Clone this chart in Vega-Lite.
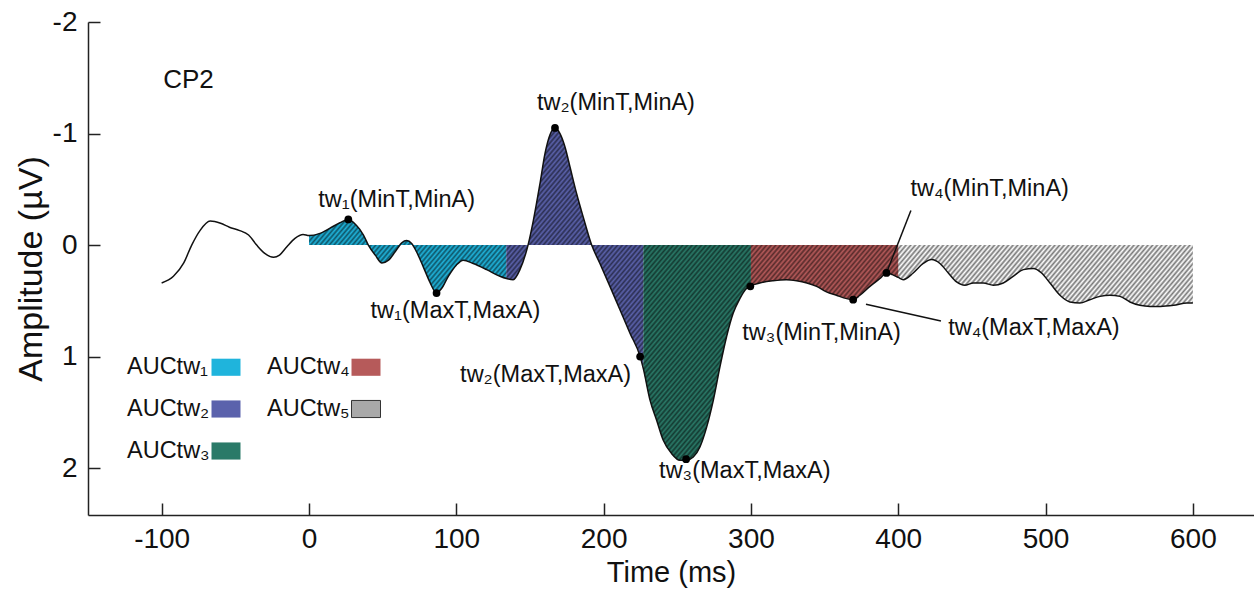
{
  "$schema": "https://vega.github.io/schema/vega-lite/v6.json",
  "width": 1166,
  "height": 493,
  "autosize": "none",
  "padding": {"left": 88, "top": 22, "right": 0, "bottom": 75},
  "background": "white",
  "config": {"view": {"stroke": null}, "font": "Liberation Sans"},
  "datasets": {
    "erp": [
      {"t": -100, "a": 0.34, "w": "pre"}, {"t": -92, "a": 0.28, "w": "pre"}, {"t": -85, "a": 0.16, "w": "pre"},
      {"t": -79.6, "a": 0, "w": "pre"}, {"t": -74, "a": -0.13, "w": "pre"}, {"t": -67, "a": -0.215, "w": "pre"},
      {"t": -60, "a": -0.195, "w": "pre"}, {"t": -54, "a": -0.16, "w": "pre"}, {"t": -47, "a": -0.13, "w": "pre"},
      {"t": -41, "a": -0.09, "w": "pre"}, {"t": -35.5, "a": 0, "w": "pre"}, {"t": -30, "a": 0.075, "w": "pre"},
      {"t": -24, "a": 0.11, "w": "pre"}, {"t": -20, "a": 0.09, "w": "pre"}, {"t": -15, "a": 0.015, "w": "pre"},
      {"t": -9.5, "a": -0.06, "w": "pre"}, {"t": -4, "a": -0.095, "w": "pre"},
      {"t": 0, "a": -0.085, "w": "tw1"}, {"t": 7.5, "a": -0.105, "w": "tw1"}, {"t": 14, "a": -0.15, "w": "tw1"},
      {"t": 21, "a": -0.2, "w": "tw1"}, {"t": 26.7, "a": -0.23, "w": "tw1"}, {"t": 32, "a": -0.18, "w": "tw1"},
      {"t": 37, "a": -0.09, "w": "tw1"}, {"t": 40.3, "a": 0, "w": "tw1"}, {"t": 45, "a": 0.09, "w": "tw1"},
      {"t": 49.5, "a": 0.16, "w": "tw1"}, {"t": 54, "a": 0.135, "w": "tw1"}, {"t": 58.5, "a": 0.06, "w": "tw1"},
      {"t": 63, "a": -0.02, "w": "tw1"}, {"t": 66.3, "a": -0.04, "w": "tw1"}, {"t": 69.7, "a": -0.015, "w": "tw1"},
      {"t": 73, "a": 0.06, "w": "tw1"}, {"t": 77.6, "a": 0.195, "w": "tw1"}, {"t": 82, "a": 0.33, "w": "tw1"},
      {"t": 86.6, "a": 0.43, "w": "tw1"}, {"t": 90, "a": 0.39, "w": "tw1"}, {"t": 94.6, "a": 0.28, "w": "tw1"},
      {"t": 100, "a": 0.18, "w": "tw1"}, {"t": 104.7, "a": 0.135, "w": "tw1"}, {"t": 111.5, "a": 0.165, "w": "tw1"},
      {"t": 120.6, "a": 0.22, "w": "tw1"}, {"t": 129.6, "a": 0.28, "w": "tw1"}, {"t": 134, "a": 0.3, "w": "tw1"},
      {"t": 134, "a": 0.3, "w": "tw2"}, {"t": 138.6, "a": 0.31, "w": "tw2"}, {"t": 143.2, "a": 0.22, "w": "tw2"},
      {"t": 148.7, "a": 0, "w": "tw2"}, {"t": 152.3, "a": -0.22, "w": "tw2"}, {"t": 156.8, "a": -0.55, "w": "tw2"},
      {"t": 160.2, "a": -0.82, "w": "tw2"}, {"t": 163.6, "a": -0.99, "w": "tw2"}, {"t": 167, "a": -1.05, "w": "tw2"},
      {"t": 170.4, "a": -1.0, "w": "tw2"}, {"t": 173.8, "a": -0.88, "w": "tw2"}, {"t": 177.2, "a": -0.7, "w": "tw2"},
      {"t": 181.7, "a": -0.46, "w": "tw2"}, {"t": 186.2, "a": -0.25, "w": "tw2"}, {"t": 191.9, "a": 0, "w": "tw2"},
      {"t": 197.5, "a": 0.165, "w": "tw2"}, {"t": 204.3, "a": 0.37, "w": "tw2"}, {"t": 211.1, "a": 0.58, "w": "tw2"},
      {"t": 217.9, "a": 0.79, "w": "tw2"}, {"t": 224.8, "a": 1.0, "w": "tw2"}, {"t": 227, "a": 1.11, "w": "tw2"},
      {"t": 227, "a": 1.11, "w": "tw3"}, {"t": 231.5, "a": 1.39, "w": "tw3"}, {"t": 236, "a": 1.57, "w": "tw3"},
      {"t": 240.5, "a": 1.75, "w": "tw3"}, {"t": 246.2, "a": 1.87, "w": "tw3"}, {"t": 251.8, "a": 1.93, "w": "tw3"},
      {"t": 256, "a": 1.93, "w": "tw3"}, {"t": 260.9, "a": 1.9, "w": "tw3"}, {"t": 265.4, "a": 1.81, "w": "tw3"},
      {"t": 270, "a": 1.63, "w": "tw3"}, {"t": 274.5, "a": 1.39, "w": "tw3"}, {"t": 279, "a": 1.09, "w": "tw3"},
      {"t": 283.5, "a": 0.82, "w": "tw3"}, {"t": 288, "a": 0.61, "w": "tw3"}, {"t": 292.5, "a": 0.48, "w": "tw3"},
      {"t": 297, "a": 0.39, "w": "tw3"}, {"t": 300, "a": 0.365, "w": "tw3"},
      {"t": 300, "a": 0.365, "w": "tw4"}, {"t": 306, "a": 0.34, "w": "tw4"}, {"t": 315, "a": 0.32, "w": "tw4"},
      {"t": 324, "a": 0.31, "w": "tw4"}, {"t": 331, "a": 0.32, "w": "tw4"}, {"t": 338, "a": 0.34, "w": "tw4"},
      {"t": 344.6, "a": 0.37, "w": "tw4"}, {"t": 351.3, "a": 0.42, "w": "tw4"}, {"t": 358, "a": 0.45, "w": "tw4"},
      {"t": 365, "a": 0.48, "w": "tw4"}, {"t": 369.4, "a": 0.49, "w": "tw4"}, {"t": 374, "a": 0.45, "w": "tw4"},
      {"t": 380.8, "a": 0.37, "w": "tw4"}, {"t": 387.6, "a": 0.3, "w": "tw4"}, {"t": 392, "a": 0.25, "w": "tw4"},
      {"t": 396, "a": 0.265, "w": "tw4"}, {"t": 400, "a": 0.29, "w": "tw4"},
      {"t": 400, "a": 0.29, "w": "tw5"}, {"t": 403.4, "a": 0.31, "w": "tw5"}, {"t": 410.2, "a": 0.25, "w": "tw5"},
      {"t": 417, "a": 0.165, "w": "tw5"}, {"t": 422.6, "a": 0.13, "w": "tw5"}, {"t": 428.3, "a": 0.165, "w": "tw5"},
      {"t": 434, "a": 0.25, "w": "tw5"}, {"t": 439.6, "a": 0.33, "w": "tw5"}, {"t": 445.2, "a": 0.36, "w": "tw5"},
      {"t": 451, "a": 0.34, "w": "tw5"}, {"t": 457.7, "a": 0.34, "w": "tw5"}, {"t": 464.5, "a": 0.36, "w": "tw5"},
      {"t": 471.3, "a": 0.34, "w": "tw5"}, {"t": 478, "a": 0.28, "w": "tw5"}, {"t": 485, "a": 0.22, "w": "tw5"},
      {"t": 491.7, "a": 0.21, "w": "tw5"}, {"t": 497.3, "a": 0.25, "w": "tw5"}, {"t": 503, "a": 0.34, "w": "tw5"},
      {"t": 509.8, "a": 0.45, "w": "tw5"}, {"t": 516.5, "a": 0.51, "w": "tw5"}, {"t": 523.3, "a": 0.52, "w": "tw5"},
      {"t": 530, "a": 0.49, "w": "tw5"}, {"t": 537, "a": 0.46, "w": "tw5"}, {"t": 543.7, "a": 0.45, "w": "tw5"},
      {"t": 550.5, "a": 0.46, "w": "tw5"}, {"t": 557.3, "a": 0.51, "w": "tw5"}, {"t": 564, "a": 0.54, "w": "tw5"},
      {"t": 571, "a": 0.55, "w": "tw5"}, {"t": 578, "a": 0.55, "w": "tw5"}, {"t": 587, "a": 0.54, "w": "tw5"},
      {"t": 596, "a": 0.52, "w": "tw5"}, {"t": 600, "a": 0.52, "w": "tw5"}
    ],
    "pts": [
      {"id": "1min", "t": 26.7, "a": -0.23, "lab": "tw₁(MinT,MinA)"},
      {"id": "1max", "t": 86.6, "a": 0.43, "lab": "tw₁(MaxT,MaxA)"},
      {"id": "2min", "t": 167, "a": -1.05, "lab": "tw₂(MinT,MinA)"},
      {"id": "2max", "t": 224.8, "a": 1.0, "lab": "tw₂(MaxT,MaxA)"},
      {"id": "3max", "t": 256, "a": 1.92, "lab": "tw₃(MaxT,MaxA)"},
      {"id": "3min", "t": 299.6, "a": 0.37, "lab": "tw₃(MinT,MinA)"},
      {"id": "4min", "t": 392, "a": 0.25, "lab": "tw₄(MinT,MinA)"},
      {"id": "4max", "t": 369.4, "a": 0.49, "lab": "tw₄(MaxT,MaxA)"}
    ],
    "info": [{"channel": "CP2"}]
  },
  "layer": [
    {
      "data": {"name": "erp"},
      "transform": [{"filter": "datum.w !== 'pre' && datum.w !== 'tw5'"}],
      "mark": {"type": "area", "interpolate": "monotone"},
      "encoding": {
        "x": {
          "field": "t", "type": "quantitative",
          "scale": {"domain": [-150, 641.5], "nice": false, "zero": false},
          "axis": {
            "values": [-100, 0, 100, 200, 300, 400, 500, 600],
            "labelExpr": "'' + datum.value",
            "title": "Time (ms)", "grid": false,
            "domainColor": "#222", "domainWidth": 1.5,
            "tickColor": "#222", "tickWidth": 1.5, "tickSize": -12,
            "labelPadding": 22, "labelFontSize": 28, "labelColor": "#111",
            "labelFlush": false, "labelOverlap": false,
            "titleFontSize": 29, "titleFontWeight": "normal", "titleColor": "#111", "titlePadding": 5
          }
        },
        "y": {
          "field": "a", "type": "quantitative", "stack": null,
          "scale": {"domain": [-2, 2.42], "reverse": true, "nice": false, "zero": false},
          "axis": {
            "values": [-2, -1, 0, 1, 2],
            "labelExpr": "'' + datum.value",
            "title": "Amplitude (µV)", "grid": false,
            "domainColor": "#222", "domainWidth": 1.5,
            "tickColor": "#222", "tickWidth": 1.5, "tickSize": -12,
            "labelPadding": 23, "labelFontSize": 28, "labelColor": "#111",
            "labelFlush": false, "labelOverlap": false,
            "titleFontSize": 34, "titleFontWeight": "normal", "titleColor": "#111", "titlePadding": 4
          }
        },
        "y2": {"datum": 0},
        "color": {
          "field": "w", "type": "nominal",
          "scale": {"domain": ["tw1", "tw2", "tw3", "tw4", "tw5"], "range": ["#1fb4dc", "#5b62ac", "#2a7a68", "#b65a5a", "#a9a9a9"]},
          "legend": {
            "orient": "none", "legendX": 39, "legendY": 330, "padding": 0,
            "title": null, "columns": 2, "columnPadding": 24, "rowPadding": 15,
            "symbolType": "M-1,-0.59H1V0.59H-1Z", "symbolSize": 841, "symbolStrokeWidth": 0,
            "symbolOffset": 84, "labelOffset": -114,
            "labelFont": "Liberation Sans", "labelFontSize": 23.5, "labelColor": "#111",
            "labelExpr": "'AUCtw' + (datum.label == 'tw1' ? '₁' : datum.label == 'tw2' ? '₂' : datum.label == 'tw3' ? '₃' : datum.label == 'tw4' ? '₄' : '₅')",
            "encode": {"symbols": {"update": {
              "stroke": [{"test": "datum.value === 'tw5'", "value": "#333"}, {"value": "transparent"}],
              "strokeWidth": {"value": 1},
              "fill": {"signal": "datum.value === 'tw5' ? {gradient: 'linear', x1: 0, y1: 0, x2: 1.201, y2: 0.592, stops: [{offset: 0, color: '#fff'}, {offset: 0.0556, color: '#333'}, {offset: 0.1111, color: '#fff'}, {offset: 0.1667, color: '#333'}, {offset: 0.2222, color: '#fff'}, {offset: 0.2778, color: '#333'}, {offset: 0.3333, color: '#fff'}, {offset: 0.3889, color: '#333'}, {offset: 0.4444, color: '#fff'}, {offset: 0.5, color: '#333'}, {offset: 0.5556, color: '#fff'}, {offset: 0.6111, color: '#333'}, {offset: 0.6667, color: '#fff'}, {offset: 0.7222, color: '#333'}, {offset: 0.7778, color: '#fff'}, {offset: 0.8333, color: '#333'}, {offset: 0.8889, color: '#fff'}, {offset: 0.9444, color: '#333'}, {offset: 1, color: '#fff'}]} : scale('color', datum.value)"}
            }}}
          }
        }
      }
    },
    {
      "data": {"name": "erp"},
      "transform": [{"filter": "datum.w !== 'pre'"}],
      "mark": {"type": "area", "interpolate": "monotone", "fill": {"gradient": "linear", "x1": 0, "y1": 0, "x2": 1.1965, "y2": 0.3778, "stops": [
        {"offset":0.000,"color":"#0000"},{"offset":0.002,"color":"#0008"},{"offset":0.004,"color":"#0000"},{"offset":0.006,"color":"#0008"},{"offset":0.008,"color":"#0000"},{"offset":0.010,"color":"#0008"},{"offset":0.012,"color":"#0000"},{"offset":0.014,"color":"#0008"},{"offset":0.016,"color":"#0000"},{"offset":0.018,"color":"#0008"},
        {"offset":0.020,"color":"#0000"},{"offset":0.022,"color":"#0008"},{"offset":0.024,"color":"#0000"},{"offset":0.026,"color":"#0008"},{"offset":0.028,"color":"#0000"},{"offset":0.030,"color":"#0008"},{"offset":0.032,"color":"#0000"},{"offset":0.034,"color":"#0008"},{"offset":0.036,"color":"#0000"},{"offset":0.038,"color":"#0008"},
        {"offset":0.040,"color":"#0000"},{"offset":0.042,"color":"#0008"},{"offset":0.044,"color":"#0000"},{"offset":0.046,"color":"#0008"},{"offset":0.048,"color":"#0000"},{"offset":0.050,"color":"#0008"},{"offset":0.052,"color":"#0000"},{"offset":0.054,"color":"#0008"},{"offset":0.056,"color":"#0000"},{"offset":0.058,"color":"#0008"},
        {"offset":0.060,"color":"#0000"},{"offset":0.062,"color":"#0008"},{"offset":0.064,"color":"#0000"},{"offset":0.066,"color":"#0008"},{"offset":0.068,"color":"#0000"},{"offset":0.070,"color":"#0008"},{"offset":0.072,"color":"#0000"},{"offset":0.074,"color":"#0008"},{"offset":0.076,"color":"#0000"},{"offset":0.078,"color":"#0008"},
        {"offset":0.080,"color":"#0000"},{"offset":0.082,"color":"#0008"},{"offset":0.084,"color":"#0000"},{"offset":0.086,"color":"#0008"},{"offset":0.088,"color":"#0000"},{"offset":0.090,"color":"#0008"},{"offset":0.092,"color":"#0000"},{"offset":0.094,"color":"#0008"},{"offset":0.096,"color":"#0000"},{"offset":0.098,"color":"#0008"},
        {"offset":0.100,"color":"#0000"},{"offset":0.102,"color":"#0008"},{"offset":0.104,"color":"#0000"},{"offset":0.106,"color":"#0008"},{"offset":0.108,"color":"#0000"},{"offset":0.110,"color":"#0008"},{"offset":0.112,"color":"#0000"},{"offset":0.114,"color":"#0008"},{"offset":0.116,"color":"#0000"},{"offset":0.118,"color":"#0008"},
        {"offset":0.120,"color":"#0000"},{"offset":0.122,"color":"#0008"},{"offset":0.124,"color":"#0000"},{"offset":0.126,"color":"#0008"},{"offset":0.128,"color":"#0000"},{"offset":0.130,"color":"#0008"},{"offset":0.132,"color":"#0000"},{"offset":0.134,"color":"#0008"},{"offset":0.136,"color":"#0000"},{"offset":0.138,"color":"#0008"},
        {"offset":0.140,"color":"#0000"},{"offset":0.142,"color":"#0008"},{"offset":0.144,"color":"#0000"},{"offset":0.146,"color":"#0008"},{"offset":0.148,"color":"#0000"},{"offset":0.150,"color":"#0008"},{"offset":0.152,"color":"#0000"},{"offset":0.154,"color":"#0008"},{"offset":0.156,"color":"#0000"},{"offset":0.158,"color":"#0008"},
        {"offset":0.160,"color":"#0000"},{"offset":0.162,"color":"#0008"},{"offset":0.164,"color":"#0000"},{"offset":0.166,"color":"#0008"},{"offset":0.168,"color":"#0000"},{"offset":0.170,"color":"#0008"},{"offset":0.172,"color":"#0000"},{"offset":0.174,"color":"#0008"},{"offset":0.176,"color":"#0000"},{"offset":0.178,"color":"#0008"},
        {"offset":0.180,"color":"#0000"},{"offset":0.182,"color":"#0008"},{"offset":0.184,"color":"#0000"},{"offset":0.186,"color":"#0008"},{"offset":0.188,"color":"#0000"},{"offset":0.190,"color":"#0008"},{"offset":0.192,"color":"#0000"},{"offset":0.194,"color":"#0008"},{"offset":0.196,"color":"#0000"},{"offset":0.198,"color":"#0008"},
        {"offset":0.200,"color":"#0000"},{"offset":0.202,"color":"#0008"},{"offset":0.204,"color":"#0000"},{"offset":0.206,"color":"#0008"},{"offset":0.208,"color":"#0000"},{"offset":0.210,"color":"#0008"},{"offset":0.212,"color":"#0000"},{"offset":0.214,"color":"#0008"},{"offset":0.216,"color":"#0000"},{"offset":0.218,"color":"#0008"},
        {"offset":0.220,"color":"#0000"},{"offset":0.222,"color":"#0008"},{"offset":0.224,"color":"#0000"},{"offset":0.226,"color":"#0008"},{"offset":0.228,"color":"#0000"},{"offset":0.230,"color":"#0008"},{"offset":0.232,"color":"#0000"},{"offset":0.234,"color":"#0008"},{"offset":0.236,"color":"#0000"},{"offset":0.238,"color":"#0008"},
        {"offset":0.240,"color":"#0000"},{"offset":0.242,"color":"#0008"},{"offset":0.244,"color":"#0000"},{"offset":0.246,"color":"#0008"},{"offset":0.248,"color":"#0000"},{"offset":0.250,"color":"#0008"},{"offset":0.252,"color":"#0000"},{"offset":0.254,"color":"#0008"},{"offset":0.256,"color":"#0000"},{"offset":0.258,"color":"#0008"},
        {"offset":0.260,"color":"#0000"},{"offset":0.262,"color":"#0008"},{"offset":0.264,"color":"#0000"},{"offset":0.266,"color":"#0008"},{"offset":0.268,"color":"#0000"},{"offset":0.270,"color":"#0008"},{"offset":0.272,"color":"#0000"},{"offset":0.274,"color":"#0008"},{"offset":0.276,"color":"#0000"},{"offset":0.278,"color":"#0008"},
        {"offset":0.280,"color":"#0000"},{"offset":0.282,"color":"#0008"},{"offset":0.284,"color":"#0000"},{"offset":0.286,"color":"#0008"},{"offset":0.288,"color":"#0000"},{"offset":0.290,"color":"#0008"},{"offset":0.292,"color":"#0000"},{"offset":0.294,"color":"#0008"},{"offset":0.296,"color":"#0000"},{"offset":0.298,"color":"#0008"},
        {"offset":0.300,"color":"#0000"},{"offset":0.302,"color":"#0008"},{"offset":0.304,"color":"#0000"},{"offset":0.306,"color":"#0008"},{"offset":0.308,"color":"#0000"},{"offset":0.310,"color":"#0008"},{"offset":0.312,"color":"#0000"},{"offset":0.314,"color":"#0008"},{"offset":0.316,"color":"#0000"},{"offset":0.318,"color":"#0008"},
        {"offset":0.320,"color":"#0000"},{"offset":0.322,"color":"#0008"},{"offset":0.324,"color":"#0000"},{"offset":0.326,"color":"#0008"},{"offset":0.328,"color":"#0000"},{"offset":0.330,"color":"#0008"},{"offset":0.332,"color":"#0000"},{"offset":0.334,"color":"#0008"},{"offset":0.336,"color":"#0000"},{"offset":0.338,"color":"#0008"},
        {"offset":0.340,"color":"#0000"},{"offset":0.342,"color":"#0008"},{"offset":0.344,"color":"#0000"},{"offset":0.346,"color":"#0008"},{"offset":0.348,"color":"#0000"},{"offset":0.350,"color":"#0008"},{"offset":0.352,"color":"#0000"},{"offset":0.354,"color":"#0008"},{"offset":0.356,"color":"#0000"},{"offset":0.358,"color":"#0008"},
        {"offset":0.360,"color":"#0000"},{"offset":0.362,"color":"#0008"},{"offset":0.364,"color":"#0000"},{"offset":0.366,"color":"#0008"},{"offset":0.368,"color":"#0000"},{"offset":0.370,"color":"#0008"},{"offset":0.372,"color":"#0000"},{"offset":0.374,"color":"#0008"},{"offset":0.376,"color":"#0000"},{"offset":0.378,"color":"#0008"},
        {"offset":0.380,"color":"#0000"},{"offset":0.382,"color":"#0008"},{"offset":0.384,"color":"#0000"},{"offset":0.386,"color":"#0008"},{"offset":0.388,"color":"#0000"},{"offset":0.390,"color":"#0008"},{"offset":0.392,"color":"#0000"},{"offset":0.394,"color":"#0008"},{"offset":0.396,"color":"#0000"},{"offset":0.398,"color":"#0008"},
        {"offset":0.400,"color":"#0000"},{"offset":0.402,"color":"#0008"},{"offset":0.404,"color":"#0000"},{"offset":0.406,"color":"#0008"},{"offset":0.408,"color":"#0000"},{"offset":0.410,"color":"#0008"},{"offset":0.412,"color":"#0000"},{"offset":0.414,"color":"#0008"},{"offset":0.416,"color":"#0000"},{"offset":0.418,"color":"#0008"},
        {"offset":0.420,"color":"#0000"},{"offset":0.422,"color":"#0008"},{"offset":0.424,"color":"#0000"},{"offset":0.426,"color":"#0008"},{"offset":0.428,"color":"#0000"},{"offset":0.430,"color":"#0008"},{"offset":0.432,"color":"#0000"},{"offset":0.434,"color":"#0008"},{"offset":0.436,"color":"#0000"},{"offset":0.438,"color":"#0008"},
        {"offset":0.440,"color":"#0000"},{"offset":0.442,"color":"#0008"},{"offset":0.444,"color":"#0000"},{"offset":0.446,"color":"#0008"},{"offset":0.448,"color":"#0000"},{"offset":0.450,"color":"#0008"},{"offset":0.452,"color":"#0000"},{"offset":0.454,"color":"#0008"},{"offset":0.456,"color":"#0000"},{"offset":0.458,"color":"#0008"},
        {"offset":0.460,"color":"#0000"},{"offset":0.462,"color":"#0008"},{"offset":0.464,"color":"#0000"},{"offset":0.466,"color":"#0008"},{"offset":0.468,"color":"#0000"},{"offset":0.470,"color":"#0008"},{"offset":0.472,"color":"#0000"},{"offset":0.474,"color":"#0008"},{"offset":0.476,"color":"#0000"},{"offset":0.478,"color":"#0008"},
        {"offset":0.480,"color":"#0000"},{"offset":0.482,"color":"#0008"},{"offset":0.484,"color":"#0000"},{"offset":0.486,"color":"#0008"},{"offset":0.488,"color":"#0000"},{"offset":0.490,"color":"#0008"},{"offset":0.492,"color":"#0000"},{"offset":0.494,"color":"#0008"},{"offset":0.496,"color":"#0000"},{"offset":0.498,"color":"#0008"},
        {"offset":0.500,"color":"#0000"},{"offset":0.502,"color":"#0008"},{"offset":0.504,"color":"#0000"},{"offset":0.506,"color":"#0008"},{"offset":0.508,"color":"#0000"},{"offset":0.510,"color":"#0008"},{"offset":0.512,"color":"#0000"},{"offset":0.514,"color":"#0008"},{"offset":0.516,"color":"#0000"},{"offset":0.518,"color":"#0008"},
        {"offset":0.520,"color":"#0000"},{"offset":0.522,"color":"#0008"},{"offset":0.524,"color":"#0000"},{"offset":0.526,"color":"#0008"},{"offset":0.528,"color":"#0000"},{"offset":0.530,"color":"#0008"},{"offset":0.532,"color":"#0000"},{"offset":0.534,"color":"#0008"},{"offset":0.536,"color":"#0000"},{"offset":0.538,"color":"#0008"},
        {"offset":0.540,"color":"#0000"},{"offset":0.542,"color":"#0008"},{"offset":0.544,"color":"#0000"},{"offset":0.546,"color":"#0008"},{"offset":0.548,"color":"#0000"},{"offset":0.550,"color":"#0008"},{"offset":0.552,"color":"#0000"},{"offset":0.554,"color":"#0008"},{"offset":0.556,"color":"#0000"},{"offset":0.558,"color":"#0008"},
        {"offset":0.560,"color":"#0000"},{"offset":0.562,"color":"#0008"},{"offset":0.564,"color":"#0000"},{"offset":0.566,"color":"#0008"},{"offset":0.568,"color":"#0000"},{"offset":0.570,"color":"#0008"},{"offset":0.572,"color":"#0000"},{"offset":0.574,"color":"#0008"},{"offset":0.576,"color":"#0000"},{"offset":0.578,"color":"#0008"},
        {"offset":0.580,"color":"#0000"},{"offset":0.582,"color":"#0008"},{"offset":0.584,"color":"#0000"},{"offset":0.586,"color":"#0008"},{"offset":0.588,"color":"#0000"},{"offset":0.590,"color":"#0008"},{"offset":0.592,"color":"#0000"},{"offset":0.594,"color":"#0008"},{"offset":0.596,"color":"#0000"},{"offset":0.598,"color":"#0008"},
        {"offset":0.600,"color":"#0000"},{"offset":0.602,"color":"#0008"},{"offset":0.604,"color":"#0000"},{"offset":0.606,"color":"#0008"},{"offset":0.608,"color":"#0000"},{"offset":0.610,"color":"#0008"},{"offset":0.612,"color":"#0000"},{"offset":0.614,"color":"#0008"},{"offset":0.616,"color":"#0000"},{"offset":0.618,"color":"#0008"},
        {"offset":0.620,"color":"#0000"},{"offset":0.622,"color":"#0008"},{"offset":0.624,"color":"#0000"},{"offset":0.626,"color":"#0008"},{"offset":0.628,"color":"#0000"},{"offset":0.630,"color":"#0008"},{"offset":0.632,"color":"#0000"},{"offset":0.634,"color":"#0008"},{"offset":0.636,"color":"#0000"},{"offset":0.638,"color":"#0008"},
        {"offset":0.640,"color":"#0000"},{"offset":0.642,"color":"#0008"},{"offset":0.644,"color":"#0000"},{"offset":0.646,"color":"#0008"},{"offset":0.648,"color":"#0000"},{"offset":0.650,"color":"#0008"},{"offset":0.652,"color":"#0000"},{"offset":0.654,"color":"#0008"},{"offset":0.656,"color":"#0000"},{"offset":0.658,"color":"#0008"},
        {"offset":0.660,"color":"#0000"},{"offset":0.662,"color":"#0008"},{"offset":0.664,"color":"#0000"},{"offset":0.666,"color":"#0008"},{"offset":0.668,"color":"#0000"},{"offset":0.670,"color":"#0008"},{"offset":0.672,"color":"#0000"},{"offset":0.674,"color":"#0008"},{"offset":0.676,"color":"#0000"},{"offset":0.678,"color":"#0008"},
        {"offset":0.680,"color":"#0000"},{"offset":0.682,"color":"#0008"},{"offset":0.684,"color":"#0000"},{"offset":0.686,"color":"#0008"},{"offset":0.688,"color":"#0000"},{"offset":0.690,"color":"#0008"},{"offset":0.692,"color":"#0000"},{"offset":0.694,"color":"#0008"},{"offset":0.696,"color":"#0000"},{"offset":0.698,"color":"#0008"},
        {"offset":0.700,"color":"#0000"},{"offset":0.702,"color":"#0008"},{"offset":0.704,"color":"#0000"},{"offset":0.706,"color":"#0008"},{"offset":0.708,"color":"#0000"},{"offset":0.710,"color":"#0008"},{"offset":0.712,"color":"#0000"},{"offset":0.714,"color":"#0008"},{"offset":0.716,"color":"#0000"},{"offset":0.718,"color":"#0008"},
        {"offset":0.720,"color":"#0000"},{"offset":0.722,"color":"#0008"},{"offset":0.724,"color":"#0000"},{"offset":0.726,"color":"#0008"},{"offset":0.728,"color":"#0000"},{"offset":0.730,"color":"#0008"},{"offset":0.732,"color":"#0000"},{"offset":0.734,"color":"#0008"},{"offset":0.736,"color":"#0000"},{"offset":0.738,"color":"#0008"},
        {"offset":0.740,"color":"#0000"},{"offset":0.742,"color":"#0008"},{"offset":0.744,"color":"#0000"},{"offset":0.746,"color":"#0008"},{"offset":0.748,"color":"#0000"},{"offset":0.750,"color":"#0008"},{"offset":0.752,"color":"#0000"},{"offset":0.754,"color":"#0008"},{"offset":0.756,"color":"#0000"},{"offset":0.758,"color":"#0008"},
        {"offset":0.760,"color":"#0000"},{"offset":0.762,"color":"#0008"},{"offset":0.764,"color":"#0000"},{"offset":0.766,"color":"#0008"},{"offset":0.768,"color":"#0000"},{"offset":0.770,"color":"#0008"},{"offset":0.772,"color":"#0000"},{"offset":0.774,"color":"#0008"},{"offset":0.776,"color":"#0000"},{"offset":0.778,"color":"#0008"},
        {"offset":0.780,"color":"#0000"},{"offset":0.782,"color":"#0008"},{"offset":0.784,"color":"#0000"},{"offset":0.786,"color":"#0008"},{"offset":0.788,"color":"#0000"},{"offset":0.790,"color":"#0008"},{"offset":0.792,"color":"#0000"},{"offset":0.794,"color":"#0008"},{"offset":0.796,"color":"#0000"},{"offset":0.798,"color":"#0008"},
        {"offset":0.800,"color":"#0000"},{"offset":0.802,"color":"#0008"},{"offset":0.804,"color":"#0000"},{"offset":0.806,"color":"#0008"},{"offset":0.808,"color":"#0000"},{"offset":0.810,"color":"#0008"},{"offset":0.812,"color":"#0000"},{"offset":0.814,"color":"#0008"},{"offset":0.816,"color":"#0000"},{"offset":0.818,"color":"#0008"},
        {"offset":0.820,"color":"#0000"},{"offset":0.822,"color":"#0008"},{"offset":0.824,"color":"#0000"},{"offset":0.826,"color":"#0008"},{"offset":0.828,"color":"#0000"},{"offset":0.830,"color":"#0008"},{"offset":0.832,"color":"#0000"},{"offset":0.834,"color":"#0008"},{"offset":0.836,"color":"#0000"},{"offset":0.838,"color":"#0008"},
        {"offset":0.840,"color":"#0000"},{"offset":0.842,"color":"#0008"},{"offset":0.844,"color":"#0000"},{"offset":0.846,"color":"#0008"},{"offset":0.848,"color":"#0000"},{"offset":0.850,"color":"#0008"},{"offset":0.852,"color":"#0000"},{"offset":0.854,"color":"#0008"},{"offset":0.856,"color":"#0000"},{"offset":0.858,"color":"#0008"},
        {"offset":0.860,"color":"#0000"},{"offset":0.862,"color":"#0008"},{"offset":0.864,"color":"#0000"},{"offset":0.866,"color":"#0008"},{"offset":0.868,"color":"#0000"},{"offset":0.870,"color":"#0008"},{"offset":0.872,"color":"#0000"},{"offset":0.874,"color":"#0008"},{"offset":0.876,"color":"#0000"},{"offset":0.878,"color":"#0008"},
        {"offset":0.880,"color":"#0000"},{"offset":0.882,"color":"#0008"},{"offset":0.884,"color":"#0000"},{"offset":0.886,"color":"#0008"},{"offset":0.888,"color":"#0000"},{"offset":0.890,"color":"#0008"},{"offset":0.892,"color":"#0000"},{"offset":0.894,"color":"#0008"},{"offset":0.896,"color":"#0000"},{"offset":0.898,"color":"#0008"},
        {"offset":0.900,"color":"#0000"},{"offset":0.902,"color":"#0008"},{"offset":0.904,"color":"#0000"},{"offset":0.906,"color":"#0008"},{"offset":0.908,"color":"#0000"},{"offset":0.910,"color":"#0008"},{"offset":0.912,"color":"#0000"},{"offset":0.914,"color":"#0008"},{"offset":0.916,"color":"#0000"},{"offset":0.918,"color":"#0008"},
        {"offset":0.920,"color":"#0000"},{"offset":0.922,"color":"#0008"},{"offset":0.924,"color":"#0000"},{"offset":0.926,"color":"#0008"},{"offset":0.928,"color":"#0000"},{"offset":0.930,"color":"#0008"},{"offset":0.932,"color":"#0000"},{"offset":0.934,"color":"#0008"},{"offset":0.936,"color":"#0000"},{"offset":0.938,"color":"#0008"},
        {"offset":0.940,"color":"#0000"},{"offset":0.942,"color":"#0008"},{"offset":0.944,"color":"#0000"},{"offset":0.946,"color":"#0008"},{"offset":0.948,"color":"#0000"},{"offset":0.950,"color":"#0008"},{"offset":0.952,"color":"#0000"},{"offset":0.954,"color":"#0008"},{"offset":0.956,"color":"#0000"},{"offset":0.958,"color":"#0008"},
        {"offset":0.960,"color":"#0000"},{"offset":0.962,"color":"#0008"},{"offset":0.964,"color":"#0000"},{"offset":0.966,"color":"#0008"},{"offset":0.968,"color":"#0000"},{"offset":0.970,"color":"#0008"},{"offset":0.972,"color":"#0000"},{"offset":0.974,"color":"#0008"},{"offset":0.976,"color":"#0000"},{"offset":0.978,"color":"#0008"},
        {"offset":0.980,"color":"#0000"},{"offset":0.982,"color":"#0008"},{"offset":0.984,"color":"#0000"},{"offset":0.986,"color":"#0008"},{"offset":0.988,"color":"#0000"},{"offset":0.990,"color":"#0008"},{"offset":0.992,"color":"#0000"},{"offset":0.994,"color":"#0008"},{"offset":0.996,"color":"#0000"},{"offset":0.998,"color":"#0008"},
        {"offset":1.000,"color":"#0000"}
      ]}},
      "encoding": {"x": {"field": "t", "type": "quantitative"}, "y": {"field": "a", "type": "quantitative", "stack": null}, "y2": {"datum": 0}}
    },
    {
      "mark": {"type": "rule", "color": "#111", "strokeWidth": 1.5},
      "encoding": {"x": {"datum": -100}, "x2": {"datum": 600}, "y": {"datum": 0}}
    },
    {
      "data": {"name": "erp"},
      "mark": {"type": "line", "interpolate": "monotone", "color": "#111", "strokeWidth": 1.5},
      "encoding": {"x": {"field": "t", "type": "quantitative"}, "y": {"field": "a", "type": "quantitative"}}
    },
    {
      "data": {"name": "pts"},
      "transform": [{"filter": "datum.id === '4min'"}],
      "mark": {"type": "rule", "color": "#111", "strokeWidth": 1.5},
      "encoding": {"x": {"field": "t", "type": "quantitative"}, "y": {"field": "a", "type": "quantitative"}, "x2": {"datum": 408.6}, "y2": {"datum": -0.31}}
    },
    {
      "data": {"name": "pts"},
      "transform": [{"filter": "datum.id === '4max'"}],
      "mark": {"type": "rule", "color": "#111", "strokeWidth": 1.5},
      "encoding": {"x": {"datum": 378.1}, "y": {"datum": 0.53}, "x2": {"datum": 429}, "y2": {"datum": 0.68}}
    },
    {
      "data": {"name": "pts"},
      "mark": {"type": "point", "filled": true, "color": "#000", "size": 60, "opacity": 1},
      "encoding": {"x": {"field": "t", "type": "quantitative"}, "y": {"field": "a", "type": "quantitative"}}
    },
    {
      "data": {"name": "pts"},
      "transform": [{"filter": "datum.id === '1min'"}],
      "mark": {"type": "text", "align": "left", "baseline": "middle", "dx": -30, "dy": -19, "fontSize": 23.5, "color": "#111"},
      "encoding": {"x": {"field": "t", "type": "quantitative"}, "y": {"field": "a", "type": "quantitative"}, "text": {"field": "lab"}}
    },
    {
      "data": {"name": "pts"},
      "transform": [{"filter": "datum.id === '1max'"}],
      "mark": {"type": "text", "align": "left", "baseline": "middle", "dx": -66, "dy": 18, "fontSize": 23.5, "color": "#111"},
      "encoding": {"x": {"field": "t", "type": "quantitative"}, "y": {"field": "a", "type": "quantitative"}, "text": {"field": "lab"}}
    },
    {
      "data": {"name": "pts"},
      "transform": [{"filter": "datum.id === '2min'"}],
      "mark": {"type": "text", "align": "left", "baseline": "middle", "dx": -18, "dy": -25, "fontSize": 23.5, "color": "#111"},
      "encoding": {"x": {"field": "t", "type": "quantitative"}, "y": {"field": "a", "type": "quantitative"}, "text": {"field": "lab"}}
    },
    {
      "data": {"name": "pts"},
      "transform": [{"filter": "datum.id === '2max'"}],
      "mark": {"type": "text", "align": "right", "baseline": "middle", "dx": -9, "dy": 18, "fontSize": 23.5, "color": "#111"},
      "encoding": {"x": {"field": "t", "type": "quantitative"}, "y": {"field": "a", "type": "quantitative"}, "text": {"field": "lab"}}
    },
    {
      "data": {"name": "pts"},
      "transform": [{"filter": "datum.id === '3max'"}],
      "mark": {"type": "text", "align": "left", "baseline": "middle", "dx": -27, "dy": 12, "fontSize": 23.5, "color": "#111"},
      "encoding": {"x": {"field": "t", "type": "quantitative"}, "y": {"field": "a", "type": "quantitative"}, "text": {"field": "lab"}}
    },
    {
      "data": {"name": "pts"},
      "transform": [{"filter": "datum.id === '3min'"}],
      "mark": {"type": "text", "align": "left", "baseline": "middle", "dx": -8, "dy": 47, "fontSize": 23.5, "color": "#111"},
      "encoding": {"x": {"field": "t", "type": "quantitative"}, "y": {"field": "a", "type": "quantitative"}, "text": {"field": "lab"}}
    },
    {
      "data": {"name": "pts"},
      "transform": [{"filter": "datum.id === '4min'"}],
      "mark": {"type": "text", "align": "left", "baseline": "middle", "dx": 24, "dy": -84, "fontSize": 23.5, "color": "#111"},
      "encoding": {"x": {"field": "t", "type": "quantitative"}, "y": {"field": "a", "type": "quantitative"}, "text": {"field": "lab"}}
    },
    {
      "data": {"name": "pts"},
      "transform": [{"filter": "datum.id === '4max'"}],
      "mark": {"type": "text", "align": "left", "baseline": "middle", "dx": 95, "dy": 28, "fontSize": 23.5, "color": "#111"},
      "encoding": {"x": {"field": "t", "type": "quantitative"}, "y": {"field": "a", "type": "quantitative"}, "text": {"field": "lab"}}
    },
    {
      "data": {"name": "info"},
      "mark": {"type": "text", "align": "left", "baseline": "middle", "fontSize": 26, "color": "#111"},
      "encoding": {"x": {"datum": -99}, "y": {"datum": -1.48}, "text": {"field": "channel"}}
    }
  ]
}
